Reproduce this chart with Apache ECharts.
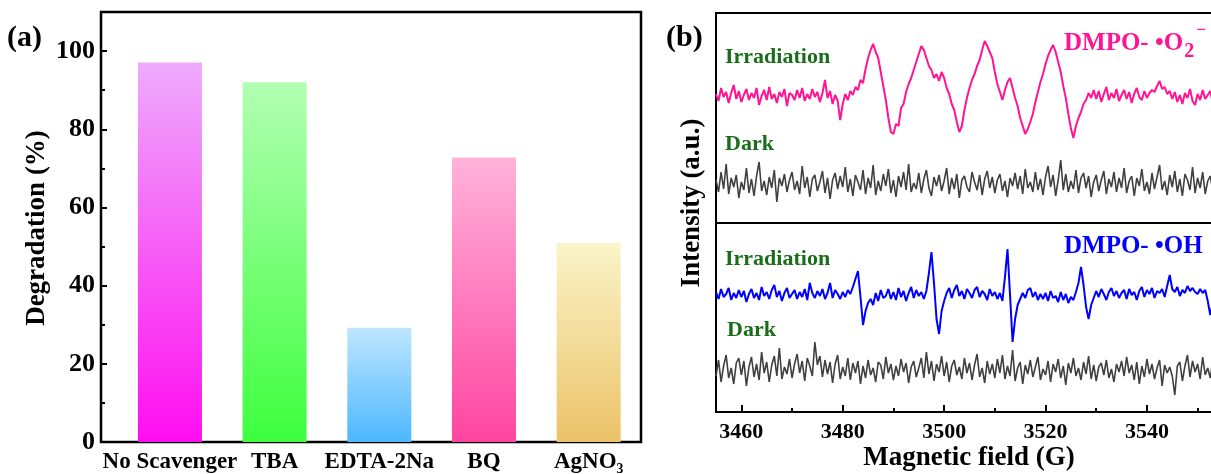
<!DOCTYPE html>
<html>
  <head>
    <meta charset="utf-8" />
    <title>Scavenger test and DMPO spin trapping</title>
    <script src="https://cdn.jsdelivr.net/npm/echarts@6.0.0/dist/echarts.min.js"></script>
    <style>
      html, body { margin: 0; padding: 0; background: #fff; }
      #chart { width: 1211px; height: 474px; }
    </style>
  </head>
  <body>
    <div id="chart"></div>
    <script type="text/javascript">
      // ---- panel (a): degradation with scavengers ----
      var scavengers = ['No Scavenger', 'TBA', 'EDTA-2Na', 'BQ', 'AgNO\u2083'];
      var degradation = [97.1, 92.0, 29.2, 72.8, 51.0];
      var degradationTicks = [0, 20, 40, 60, 80, 100];
      var degradationMinorTicks = [10, 30, 50, 70, 90];

      // ---- panel (b): EPR spectra, sampled every 0.5 G from 3455 G ----
      var fieldStart = 3455;
      var fieldStep = 0.5;
      var fieldTicks = [3460, 3480, 3500, 3520, 3540, 3560];
      var fieldMinorTicks = [3470, 3490, 3510, 3530, 3550];

      var o2Irradiation = [
        2, -5, 8, -1, 4, -7, 3, 11, -3, 5,
        -6, 1, 7, -4, 3, -2, 8, -9, 0, 6,
        -4, 9, -3, 2, -7, 4, -1, 7, -10, 3,
        1, -4, 6, -2, 8, -5, 2, -3, 7, -1,
        4, -6, 3, 16, -2, 5, -8, 1, -5, -24,
        -8, 2, -4, 5, 1, 9, 6, 16, 13, 27,
        38, 46, 52, 44, 38, 24, 10, -4, -22, -36,
        -38, -28, -30, -12, -8, 4, 12, 18, 26, 34,
        42, 50, 46, 38, 30, 26, 18, 22, 15, 24,
        18, 8, 2, -8, -14, -26, -36, -30, -14, -2,
        8, 16, 22, 30, 36, 46, 55, 50, 44, 38,
        24, 12, 4, -4, 6, 14, 18, 8, -2, -10,
        -22, -30, -38, -33, -26, -18, -6, 4, 14, 22,
        32, 40, 46, 51, 44, 34, 24, 10, -2, -18,
        -32, -42, -30, -22, -16, -8, -4, 3, -2, 6,
        -3, 5, -6, 2, 9, -4, 3, -2, 7, -5,
        1, 6, -3, 4, -7, 2, 8, -1, -4, 5,
        -2, 3, 6, 4, 10, 15, 7, 9, 2, 5,
        -3, 4, -6, 1, -8, 3, -2, 7, -5, -9,
        2, -4, 6, -3, 1, 5, -7, 2, -1, 4
      ];
      var o2Dark = [
        4, -8, 12, -5, 20, -10, 6, -3, 9, -14,
        2, -6, 16, -9, 5, -12, 8, 22, -7, 3,
        -11, 7, -4, 14, -18, 6, -2, 10, -8, 4,
        12, -6, 3, -10, 18, -4, 7, -13, 5, 9,
        -7, 2, 13, -9, 6, -15, 4, 11, -5, 8,
        -3, 17, -8, 5, -12, 9, 2, -6, 14, -10,
        6, -4, 19, -11, 3, -7, 10, -2, 15, -9,
        4, -13, 8, -3, 12, -6, 20, -8, 1, -5,
        11, -9, 5, 14, -4, -12, 7, -2, 9, -7,
        3, 16, -10, 6, -5, 10, -14, 4, 8, -3,
        -8, 12, 2, -6, 9, -11, 5, 13, -4, 7,
        -9, 4, 10, -7, 3, -13, 6, -2, 11, -5,
        8, -10, 15, -4, 2, -8, 12, -6, 5, -11,
        7, 18, -3, 9, -12, 4, 24, -6, 10, -8,
        3, -5, 14, -9, 6, 11, -4, 8, -13, 2,
        9, -7, 4, 13, -10, 5, -3, 12, -8, 6,
        -4, 16, -9, 3, 8, -12, 6, -2, 15, -7,
        2, -10, 11, -5, 7, 19, -6, 3, -11, 9,
        -3, 13, -8, 5, -12, 10, 4, -6, 17, -9,
        6, -4, 12, -10, 3, 8, -7, 14, -5, 2
      ];
      var ohIrradiation = [
        3, -4, 6, -2, 1, 7, -5, 2, -3, 5,
        -2, 4, -7, 1, 6, -3, 2, -5, 8, -1,
        3, -4, 5, 10, -2, 4, -6, 2, 7, -3,
        1, 5, -4, 3, -2, 6, -5, 12, 2, -3,
        4, -1, 6, -4, 2, 12, -3, 5, 1, -4,
        3, -2, 5, 1, 8, 16, 24, -2, -30, -16,
        -8, -4, -10, 2, -6, 5, -3, -1, 6, -4,
        3, -5, 7, -2, 4, -6, 2, 8, -3, 5,
        -1, 3, -4, 4, 22, 43, 12, -24, -39, -16,
        -6, 2, 7, -3, 5, 10, -1, 4, -4, 6,
        2, -3, 5, 8, -2, 4, 1, -5, 6, -1,
        3, -4, 2, -6, 18, 46, 0, -47, -24, -10,
        -4, 2, -3, 5, 7, -2, 3, -5, 1, -4,
        2, -6, 4, -3, -1, -7, 3, -5, 1, -8,
        -2, -5, 3, 12, 28, 10, -12, -24, -10, -3,
        4, -2, 6, 1, -5, 3, 7, -1, 4, -3,
        2, 5, -4, 6, 0, 3, -5, 4, 8, -2,
        5, 1, 7, -3, 4, 2, 6, -2, 9, 20,
        6, 3, 8, -1, 5, 2, 9, 4, 7, 3,
        1, 6, 2, 5, -6, -20, -8, 2, 5, -3
      ];
      var ohDark = [
        -6, 10, -12, 4, 15, -8, 2, -14, 7, 12,
        -5, 9, -16, 3, 13, -7, 6, -10, 18, -3,
        8, -12, 5, 14, -6, 22, -9, 3, -4, 11,
        -8, 6, 16, -3, 9, -11, 12, 4, -6, 28,
        5, 14, -7, 10, -4, 8, -13, 6, 15, -9,
        3, -6, 12, -10, 7, -3, 9, -14, 4, -8,
        10, -5, 2, -12, 8, 5, -9, 13, -3, 6,
        -10, 4, -6, 11, -2, 7, -13, 3, 9, -7,
        2, 12, -8, 18, -4, 9, -11, 6, -2, 14,
        -6, 8, -12, 4, 10, -5, 3, -9, 12, -3,
        7, -10, 5, 16, -7, 2, -13, 9, -4, 6,
        -8, 11, -3, 15, -9, 4, -6, 20, -11, 2,
        8, -14, 5, -4, 10, -7, 3, 13, -10, 1,
        -5, 9, -12, 6, -2, 11, -8, 4, -15, 7,
        -3, 12, -6, 2, -10, 8, -4, 14, -9, 5,
        -11, 3, 7, -5, 10, -8, 1, -12, 6, -2,
        9, -6, 13, -3, 5, -10, 8, -14, 4, -7,
        11, -4, 6, -9, 2, 10, -16, 5, -3, 3,
        -6, -25, 4, 8, -11, 4, 15, -7, 9, -2,
        6, -9, 13, -5, 2, -8, 10, -4, 7, -12
      ];

      // vertical stacking of the four spectra (top panel 0..210, bottom 0..189)
      var traceOffsets = { o2Irradiation: 127, o2Dark: 39, ohIrradiation: 117, ohDark: 42 };

      var serif = '"Liberation Serif", "Times New Roman", serif';
      var barColors = [
        ['#EEABFC', '#FF0DF0'],
        ['#B2FFB2', '#3EFF3E'],
        ['#BEE6FF', '#4DB7FF'],
        ['#FFB3DA', '#FF45A0'],
        ['#FAF4C9', '#ECC268']
      ];

      function toPoints(values, offset) {
        return values.map(function (v, i) {
          return [fieldStart + i * fieldStep, offset + v];
        });
      }

      function spectrum(name, values, offset, color, width, top) {
        return {
          name: name,
          type: 'line',
          xAxisIndex: top ? 2 : 3,
          yAxisIndex: top ? 3 : 4,
          data: toPoints(values, offset),
          showSymbol: false,
          clip: true,
          lineStyle: { color: color, width: width },
          silent: true
        };
      }

      function label(text, x, y, size, color, align, rotate) {
        return {
          type: 'text', x: x, y: y, z: 100, silent: true,
          rotation: rotate ? Math.PI / 2 : 0,
          style: {
            text: text, fill: color, font: 'bold ' + size + 'px ' + serif,
            textAlign: align || 'left', textVerticalAlign: 'middle'
          }
        };
      }

      // width of the radical label so the sub/superscript follow it
      var ctx = document.createElement('canvas').getContext('2d');
      ctx.font = 'bold 25px ' + serif;
      var o2Width = ctx.measureText('DMPO- \u2022O').width;

      var chart = echarts.init(document.getElementById('chart'));
      var tickFont = { color: '#000', fontFamily: serif, fontWeight: 'bold' };
      var plain = function (v) { return String(v); };

      var option = {
        animation: false,
        backgroundColor: '#fff',
        grid: [
          { left: 101, top: 12, width: 540, height: 430, outerBoundsMode: 'none', show: true, borderColor: '#000', borderWidth: 2.5, backgroundColor: 'transparent' },
          { left: 117.6, top: 12, width: 523.4, height: 430, outerBoundsMode: 'none' },
          // the spectra panel runs on past the right edge of the picture
          { left: 716, top: 13, width: 583, height: 210, outerBoundsMode: 'none', show: true, borderColor: '#000', borderWidth: 2, backgroundColor: 'transparent' },
          { left: 716, top: 223, width: 583, height: 189, outerBoundsMode: 'none', show: true, borderColor: '#000', borderWidth: 2, backgroundColor: 'transparent' }
        ],
        xAxis: [
          { gridIndex: 0, type: 'value', min: 0, max: 1, show: false },
          {
            gridIndex: 1, type: 'category', data: scavengers,
            axisLine: { show: false }, axisTick: { show: false },
            axisLabel: Object.assign({ fontSize: 23, margin: 9, interval: 0 }, tickFont)
          },
          { gridIndex: 2, type: 'value', min: 3455, max: 3570, show: false },
          {
            gridIndex: 3, type: 'value', min: 3455, max: 3570,
            axisLine: { show: false }, splitLine: { show: false },
            axisTick: { show: true, inside: true, length: 7, customValues: fieldTicks, lineStyle: { color: '#000', width: 2 } },
            axisLabel: Object.assign({ customValues: fieldTicks, fontSize: 22, margin: 9, formatter: plain }, tickFont)
          },
          {
            gridIndex: 3, type: 'value', min: 3455, max: 3570, position: 'bottom',
            axisLine: { show: false }, splitLine: { show: false }, axisLabel: { show: false },
            axisTick: { show: true, inside: true, length: 4, customValues: fieldMinorTicks, lineStyle: { color: '#000', width: 2 } }
          }
        ],
        yAxis: [
          {
            gridIndex: 0, type: 'value', min: 0, max: 110,
            axisLine: { show: false }, splitLine: { show: false },
            axisTick: { show: true, inside: true, length: 6, customValues: degradationTicks, lineStyle: { color: '#000', width: 2 } },
            axisLabel: Object.assign({ customValues: degradationTicks, fontSize: 26, margin: 6, formatter: plain }, tickFont)
          },
          {
            gridIndex: 0, type: 'value', min: 0, max: 110, position: 'left',
            axisLine: { show: false }, splitLine: { show: false }, axisLabel: { show: false },
            axisTick: { show: true, inside: true, length: 4, customValues: degradationMinorTicks, lineStyle: { color: '#000', width: 2 } }
          },
          { gridIndex: 1, type: 'value', min: 0, max: 110, show: false },
          { gridIndex: 2, type: 'value', min: 0, max: 210, show: false },
          { gridIndex: 3, type: 'value', min: 0, max: 189, show: false }
        ],
        series: [
          {
            type: 'bar', xAxisIndex: 1, yAxisIndex: 2, barWidth: 64, silent: true,
            data: degradation.map(function (v, i) {
              return {
                value: v,
                itemStyle: {
                  color: new echarts.graphic.LinearGradient(0, 0, 0, 1, [
                    { offset: 0, color: barColors[i][0] },
                    { offset: 1, color: barColors[i][1] }
                  ])
                }
              };
            })
          },
          spectrum('O2 irradiation', o2Irradiation, traceOffsets.o2Irradiation, '#FF1493', 2, true),
          spectrum('O2 dark', o2Dark, traceOffsets.o2Dark, '#404040', 1.6, true),
          spectrum('OH irradiation', ohIrradiation, traceOffsets.ohIrradiation, '#0000FF', 2, false),
          spectrum('OH dark', ohDark, traceOffsets.ohDark, '#404040', 1.6, false)
        ],
        graphic: [
          label('(a)', 7, 38, 30, '#000'),
          label('(b)', 666, 38, 30, '#000'),
          label('Degradation (%)', 37, 228, 27, '#000', 'center', true),
          label('Intensity (a.u.)', 692, 203, 27, '#000', 'center', true),
          label('Magnetic field (G)', 969, 458, 27, '#000', 'center'),
          label('Irradiation', 725, 57, 22, '#1A6E1A'),
          label('Dark', 725, 144, 22, '#1A6E1A'),
          label('Irradiation', 725, 259, 22, '#1A6E1A'),
          label('Dark', 727, 330, 22, '#1A6E1A'),
          label('DMPO- \u2022O', 1064, 44, 25, '#FF1493'),
          label('2', 1065 + o2Width, 52, 20, '#FF1493'),
          label('\u2212', 1077 + o2Width, 31, 17, '#FF1493'),
          label('DMPO- \u2022OH', 1064, 247, 25, '#0000FF')
        ]
      };
      chart.setOption(option);
    </script>
  </body>
</html>
